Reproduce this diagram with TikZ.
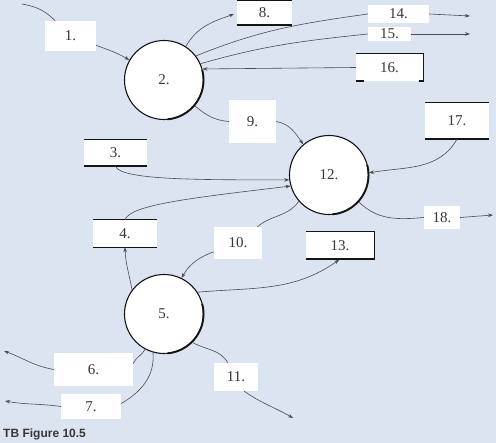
\documentclass[tikz,border=0pt]{standalone}
\usepackage{fontspec}
\setmainfont{Liberation Serif}
\newfontfamily\captionfont{Liberation Sans}
\usetikzlibrary{arrows.meta}
\definecolor{DiagramBack}{RGB}{220,228,241}
\definecolor{DiagramLine}{RGB}{75,75,75}
\definecolor{DiagramText}{RGB}{55,55,55}
\definecolor{DiagramInk}{RGB}{20,20,20}

\tikzset{
	process/.style={circle, draw=DiagramInk, line width=1.1pt, fill=white, minimum size=79pt,
		inner sep=0pt, text=DiagramText, font=\fontsize{15}{15}\selectfont},
	flowlabel/.style={fill=white, inner sep=0pt, text=DiagramText, font=\fontsize{15}{15}\selectfont},
	flow/.style={draw=DiagramLine, line width=0.6pt},
	flowarrow/.style={flow, -{Stealth[length=5pt,width=3.6pt]}},
	storeline/.style={draw=DiagramInk, line width=1.4pt},
}

\begin{document}
\begin{tikzpicture}[x=1pt,y=1pt]
		\fill[DiagramBack] (0, 0) rectangle (496, -443);
		% processes
		\node[process] (c2) at (164, -80) {2.};
		\node[process] (c12) at (329, -175) {12.};
		\node[process] (c5) at (164, -314) {5.};
		\foreach \n in {c2, c12, c5}
		\draw[DiagramInk, line width=1.9pt] ([shift={(-85:39.5)}]\n.center) arc (-85:15:39.5);
		% flow labels
		\node[flowlabel, minimum width=51pt, minimum height=30pt] (l1) at (70.5, -36) {1.};
		\node[flowlabel, minimum width=55pt, minimum height=24pt] (l8) at (264.5, -13) {8.};
		\node[flowlabel, minimum width=61pt, minimum height=18pt] (l14) at (398.5, -14) {14.};
		\node[flowlabel, minimum width=43pt, minimum height=14pt] (l15) at (389.5, -34) {15.};
		\node[flowlabel, minimum width=67pt, minimum height=27pt] (l16) at (389.5, -67.5) {16.};
		\node[flowlabel, minimum width=47pt, minimum height=43pt] (l9) at (252.5, -121.5) {9.};
		\node[flowlabel, minimum width=64pt, minimum height=36pt] (l17) at (457, -121) {17.};
		\node[flowlabel, minimum width=63pt, minimum height=26pt] (l3) at (115.5, -153) {3.};
		\node[flowlabel, minimum width=64pt, minimum height=27pt] (l4) at (125, -233.5) {4.};
		\node[flowlabel, minimum width=48pt, minimum height=32pt] (l10) at (238, -243) {10.};
		\node[flowlabel, minimum width=68pt, minimum height=27pt] (l13) at (340, -245.5) {13.};
		\node[flowlabel, minimum width=36pt, minimum height=23pt] (l18) at (442, -217.5) {18.};
		\node[flowlabel, minimum width=79pt, minimum height=33pt] (l6) at (93.5, -369.5) {6.};
		\node[flowlabel, minimum width=60pt, minimum height=25pt] (l7) at (91, -406.5) {7.};
		\node[flowlabel, minimum width=44pt, minimum height=28pt] (l11) at (236, -377) {11.};
		% store edges
		\draw[storeline] (l8.north west) -- (l8.north east) (l8.south west) -- (l8.south east);
		\draw[storeline] (l17.north west) -- (l17.north east) (l17.south west) -- (l17.south east);
		\draw[storeline] (l3.north west) -- (l3.north east) (l3.south west) -- (l3.south east);
		\draw[storeline] (l4.north west) -- (l4.north east);
		\draw[storeline, line width=0.8pt] (l4.south west) -- (l4.south east);
		\draw[storeline] (l16.north west) -- (l16.north east) -- (l16.south east) -- ++(-4, 0);
		\draw[storeline] (l16.south west) -- ++(8, 0);
		\draw[storeline] (l13.north west) -- (l13.north east) -- (l13.south east) -- (l13.south west);
		% free ends
		\coordinate (s1) at (22, -4);
		\coordinate (e14) at (470, -16);
		\coordinate (e15) at (470, -34);
		\coordinate (e18) at (493, -215);
		\coordinate (e6) at (4, -351);
		\coordinate (e7) at (5, -401);
		\coordinate (e11) at (293, -418);
		% flows
		\draw[flow] (s1) to[out=-10, in=135] (l1);
		\draw[flowarrow] (l1) to[out=-20, in=150] (c2.150);
		\draw[flowarrow, shorten >=3pt] (c2.57) to[out=60, in=200] (l8.west);
		\draw[flow] (c2.37) to[out=22, in=188] (l14.west);
		\draw[flowarrow] (l14.east) -- (e14);
		\draw[flow] (c2.24) to[out=16, in=186] (l15.west);
		\draw[flowarrow] (l15.east) -- (e15);
		\draw[flowarrow] (l16.west) -- (c2.16);
		\draw[flow] (c2.-40) to[out=-40, in=175] (l9.west);
		\draw[flowarrow] (l9.east) to[out=-10, in=125] (c12.130);
		\draw[flowarrow] (l17.south) to[out=-120, in=10] (c12.3);
		\draw[flowarrow] (l3.south) .. controls +(5, -14) and +(-90, 0) .. (c12.187);
		\draw[flowarrow] (l4.north) .. controls +(5, 15) and +(-100, -12) .. (c12.196);
		\draw[flow] (c12.-42) to[out=-45, in=185] (l18.west);
		\draw[flowarrow] (l18.east) -- (e18);
		\draw[flow] (c12.221) to[out=235, in=40] (l10);
		\draw[flowarrow] (l10) to[out=200, in=60] (c5.64);
		\draw[flowarrow] (c5.143) to[out=100, in=-88] (l4.south);
		\draw[flowarrow, shorten >=1pt] (c5.33) to[out=5, in=215] (l13.south);
		\draw[flow] (c5.242) to[out=240, in=65] ([yshift=6pt]l6.east);
		\draw[flowarrow] (l6.west) to[out=170, in=-20] (e6);
		\draw[flow] (c5.254) to[out=-85, in=30] ([yshift=3pt]l7.east);
		\draw[flowarrow] (l7.west) to[out=172, in=-10] (e7);
		\draw[flow] (c5.-45) to[out=-30, in=120] (l11);
		\draw[flowarrow] (l11.-60) to[out=-35, in=150] (e11);
		% caption
		\node[anchor=west, inner sep=0pt, text=DiagramText,
		font=\captionfont\bfseries\fontsize{12}{12}\selectfont] (caption) at (3, -434) {TB Figure 10.5};
	\end{tikzpicture}
\end{document}
